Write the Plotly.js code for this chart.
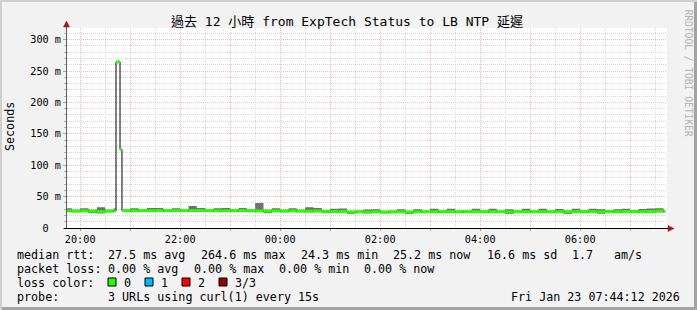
<!DOCTYPE html>
<html>
<head>
<meta charset="utf-8">
<script src="https://cdn.plot.ly/plotly-3.0.1.min.js"></script>
<style>
  html, body { margin: 0; padding: 0; background: #f2f2f2; }
  #wrap { position: relative; width: 697px; height: 310px; background: #f2f2f2;
          box-shadow: inset 2px 2px 0 #cfcfcf, inset -3px -3px 0 #a3a3a3; }
  #chart { position: absolute; left: 0; top: 0; width: 697px; height: 310px; }
</style>
</head>
<body>
<div id="wrap"><div id="chart"></div></div>
<script>
// ---------------- data ----------------
const times = [
  '2026-01-22 19:40','2026-01-22 19:50','2026-01-22 20:00','2026-01-22 20:10','2026-01-22 20:20',
  '2026-01-22 20:30','2026-01-22 20:40','2026-01-22 20:43:00','2026-01-22 20:47:50','2026-01-22 20:50:10',
  '2026-01-22 21:00','2026-01-22 21:10','2026-01-22 21:20','2026-01-22 21:30','2026-01-22 21:40','2026-01-22 21:50',
  '2026-01-22 22:00','2026-01-22 22:10','2026-01-22 22:20','2026-01-22 22:30','2026-01-22 22:40','2026-01-22 22:50',
  '2026-01-22 23:00','2026-01-22 23:10','2026-01-22 23:20','2026-01-22 23:30','2026-01-22 23:40','2026-01-22 23:50',
  '2026-01-23 00:00','2026-01-23 00:10','2026-01-23 00:20','2026-01-23 00:30','2026-01-23 00:40','2026-01-23 00:50',
  '2026-01-23 01:00','2026-01-23 01:10','2026-01-23 01:20','2026-01-23 01:30','2026-01-23 01:40','2026-01-23 01:50',
  '2026-01-23 02:00','2026-01-23 02:10','2026-01-23 02:20','2026-01-23 02:30','2026-01-23 02:40','2026-01-23 02:50',
  '2026-01-23 03:00','2026-01-23 03:10','2026-01-23 03:20','2026-01-23 03:30','2026-01-23 03:40','2026-01-23 03:50',
  '2026-01-23 04:00','2026-01-23 04:10','2026-01-23 04:20','2026-01-23 04:30','2026-01-23 04:40','2026-01-23 04:50',
  '2026-01-23 05:00','2026-01-23 05:10','2026-01-23 05:20','2026-01-23 05:30','2026-01-23 05:40','2026-01-23 05:50',
  '2026-01-23 06:00','2026-01-23 06:10','2026-01-23 06:20','2026-01-23 06:30','2026-01-23 06:40','2026-01-23 06:50',
  '2026-01-23 07:00','2026-01-23 07:10','2026-01-23 07:20','2026-01-23 07:30','2026-01-23 07:40'
];
const dataEnd = '2026-01-23 07:42';

// median rtt (ms)
const medianRtt = [
  27.2,27.0,27.3,26.8,26.0,27.0,27.2,264.6,125.0,27.5,
  27.3,27.6,27.4,27.8,27.5,27.6,
  27.4,27.8,28.0,27.6,27.3,27.5,
  27.4,27.8,27.2,27.3,26.9,27.2,
  27.0,27.3,27.0,26.8,27.1,26.5,
  26.2,26.4,25.4,25.6,25.3,25.8,
  25.2,25.5,25.7,25.4,25.6,25.9,
  26.0,25.8,26.1,25.7,25.9,26.0,
  25.8,26.1,25.9,25.6,25.8,26.0,
  25.9,26.2,25.7,25.9,25.6,26.0,
  25.8,26.1,25.7,26.0,25.8,26.2,
  26.0,25.9,26.3,27.0,26.4
];
// smoke upper bound (ms)
const smokeHi = [
  31.5,29.0,31.5,29.0,33.0,29.0,31.0,264.6,125.0,29.5,
  31.5,29.5,32.0,32.0,29.5,31.5,
  29.5,35.0,32.0,29.5,31.5,32.0,
  29.5,32.0,29.5,40.0,29.0,31.5,
  29.0,31.5,29.0,33.0,32.0,28.5,
  30.5,31.0,27.5,27.8,29.5,30.0,
  27.5,27.8,30.0,27.5,30.0,28.0,
  30.5,28.0,30.5,28.0,28.0,30.5,
  28.0,30.5,28.0,29.8,28.0,30.5,
  28.0,30.8,28.0,30.2,27.8,30.5,
  28.0,30.5,30.0,28.2,30.0,30.8,
  28.2,30.2,31.0,31.5,28.6
];
// smoke lower bound (ms)
const smokeLo = [
  25.5,25.2,25.4,23.5,23.0,25.2,25.4,264.6,125.0,25.6,
  25.5,25.8,25.4,25.9,25.6,25.7,
  25.5,25.9,26.0,25.7,25.4,25.6,
  25.4,25.9,25.3,25.4,23.6,25.3,
  25.1,25.4,25.0,24.9,25.2,23.3,
  24.3,24.5,22.3,23.8,23.4,24.0,
  23.5,23.7,23.9,22.3,23.8,24.0,
  24.1,23.9,24.2,23.8,24.0,24.1,
  23.9,24.2,24.0,22.4,23.9,24.1,
  24.0,24.3,23.8,24.0,22.4,24.1,
  23.9,24.2,22.5,24.1,23.9,24.3,
  24.1,24.0,24.4,25.1,24.5
];

const yTickVals = [0, 50, 100, 150, 200, 250, 300];
const yTickText = ['0\u00a0\u00a0', '50 m', '100 m', '150 m', '200 m', '250 m', '300 m'];
const xTickVals = [
  '2026-01-22 20:00','2026-01-22 21:00','2026-01-22 22:00','2026-01-22 23:00',
  '2026-01-23 00:00','2026-01-23 01:00','2026-01-23 02:00','2026-01-23 03:00',
  '2026-01-23 04:00','2026-01-23 05:00','2026-01-23 06:00','2026-01-23 07:00'
];
const xTickText = ['20:00','','22:00','','00:00','','02:00','','04:00','','06:00',''];

const titleText = '過去 12 小時 from ExpTech Status to LB NTP 延遲';
const legendLabels = ['median rtt:', 'packet loss:', 'loss color:', 'probe:'];
const rttStats = ['27.5 ms avg', '264.6 ms max', '24.3 ms min', '25.2 ms now', '16.6 ms sd', '1.7', 'am/s'];
const lossStats = ['0.00 % avg', '0.00 % max', '0.00 % min', '0.00 % now'];
const lossColorNames = ['0', '1', '2', '3/3'];
const lossColors = ['#26ff00', '#00b8ff', '#ff0000', '#990000'];
const probeText = '3 URLs using curl(1) every 15s';
const dateText = 'Fri Jan 23 07:44:12 2026';
const watermark = 'RRDTOOL / TOBI OETIKER';

// ---------------- geometry helpers ----------------
const FW = 697, FH = 310;
const L = 67, T = 28, PW = 600, PH = 200;
const px = x => (x - L) / PW;
const py = y => (T + PH - y) / PH;
const FONT = 'DejaVu Sans Mono, Noto Sans CJK TC, monospace';

// ---------------- traces ----------------
const xs = times.concat([dataEnd]);
const lo = smokeLo.concat([smokeLo[smokeLo.length - 1]]);
const hi = smokeHi.concat([smokeHi[smokeHi.length - 1]]);
const md = medianRtt.concat([medianRtt[medianRtt.length - 1]]);

const gx = [], gy = [];
for (let i = 0; i < medianRtt.length; i++) {
  gx.push(xs[i], xs[i + 1], null);
  gy.push(medianRtt[i], medianRtt[i], null);
}

const traces = [
  { x: xs, y: lo, type: 'scatter', mode: 'lines', line: { shape: 'hv', width: 0 }, hoverinfo: 'skip', showlegend: false },
  { x: xs, y: hi, type: 'scatter', mode: 'lines', line: { shape: 'hv', width: 0 }, fill: 'tonexty',
    fillcolor: 'rgba(100,100,100,0.92)', hoverinfo: 'skip', showlegend: false },
  { x: xs, y: md, type: 'scatter', mode: 'lines', line: { shape: 'hv', width: 1, color: '#000000' }, showlegend: false },
  { x: gx, y: gy, type: 'scatter', mode: 'lines', line: { width: 3, color: lossColors[0] }, connectgaps: false, showlegend: false }
];

// ---------------- annotations ----------------
const ann = [];
function txt(text, x, y, opts) {
  ann.push(Object.assign({
    text: text, xref: 'paper', yref: 'paper', x: px(x), y: py(y),
    xanchor: 'left', yanchor: 'middle', showarrow: false, borderpad: 0,
    font: { family: FONT, size: 11.7, color: '#000' }
  }, opts || {}));
}
const rowY = [254.5, 268.5, 282.5, 296.5];
legendLabels.forEach((s, i) => txt(s, 15.5, rowY[i]));
const rttX = [107, 200, 299.5, 392, 485.5, 570.5, 613];
rttStats.forEach((s, i) => txt(s, rttX[i], rowY[0]));
const lossX = [107, 192.5, 278, 363];
lossStats.forEach((s, i) => txt(s, lossX[i], rowY[1]));
const boxX = [108, 145, 182, 219];
const nameX = [122.5, 160, 196.5, 233.5];
lossColorNames.forEach((s, i) => txt(s, nameX[i], rowY[2]));
txt(probeText, 107, rowY[3]);
txt(dateText, 681, rowY[3], { xanchor: 'right' });
txt('Seconds', 10, 127, { xanchor: 'center', textangle: -90 });
txt(watermark, 688.5, 73, { xanchor: 'center', textangle: 90, font: { family: FONT, size: 9.6, color: '#b4b4b4' } });

// ---------------- shapes ----------------
const shapes = [];
lossColors.forEach((c, i) => {
  shapes.push({ type: 'rect', xref: 'paper', yref: 'paper',
    x0: px(boxX[i]), x1: px(boxX[i] + 8), y0: py(286), y1: py(278),
    fillcolor: c, line: { color: '#000', width: 1 } });
});
// axis lines
shapes.push({ type: 'line', xref: 'paper', yref: 'paper', x0: px(66.5), x1: px(66.5), y0: py(228.5), y1: py(24),
  line: { color: '#606060', width: 1 } });
shapes.push({ type: 'line', xref: 'paper', yref: 'paper', x0: px(64), x1: px(670), y0: py(228.5), y1: py(228.5),
  line: { color: '#000000', width: 1 } });
// arrows
shapes.push({ type: 'path', xref: 'paper', yref: 'paper',
  path: `M ${px(63.5)} ${py(27)} L ${px(69.5)} ${py(27)} L ${px(66.5)} ${py(21)} Z`,
  fillcolor: '#a01818', line: { color: '#a01818', width: 0.5 } });
shapes.push({ type: 'path', xref: 'paper', yref: 'paper',
  path: `M ${px(668)} ${py(225.5)} L ${px(668)} ${py(231.5)} L ${px(674)} ${py(228.5)} Z`,
  fillcolor: '#a01818', line: { color: '#a01818', width: 0.5 } });

// ---------------- layout ----------------
const layout = {
  width: FW, height: FH,
  margin: { l: L, r: FW - L - PW, t: T, b: FH - T - PH, pad: 0 },
  paper_bgcolor: 'rgba(0,0,0,0)', plot_bgcolor: '#ffffff',
  font: { family: FONT, color: '#000' },
  showlegend: false,
  title: { text: titleText, font: { family: FONT, size: 13, color: '#000' },
           xref: 'container', x: 347 / FW, xanchor: 'center', yref: 'container', y: 1 - 21.5 / FH, yanchor: 'middle' },
  xaxis: {
    type: 'date', range: ['2026-01-22 19:44:12', '2026-01-23 07:44:12'],
    tickmode: 'array', tickvals: xTickVals, ticktext: xTickText,
    showgrid: true, gridcolor: '#f3b8b8', griddash: '1px,1px', gridwidth: 1,
    ticks: 'outside', ticklen: 2, tickcolor: '#a0a0a0',
    tickfont: { family: FONT, size: 10.2, color: '#000' },
    minor: { dtick: 1800000, tick0: '2026-01-22 19:30', showgrid: true, gridcolor: '#d6d6d6', griddash: '1px,1px', ticks: '' },
    showline: false, zeroline: false, fixedrange: true
  },
  yaxis: {
    range: [0, 318.5], tickmode: 'array', tickvals: yTickVals, ticktext: yTickText,
    showgrid: true, gridcolor: '#f3b8b8', griddash: '1px,1px', gridwidth: 1,
    ticks: 'outside', ticklen: 3, tickcolor: '#a0a0a0',
    tickfont: { family: FONT, size: 10.2, color: '#000' },
    minor: { dtick: 10, showgrid: true, gridcolor: '#d6d6d6', griddash: '1px,1px', ticks: 'outside', ticklen: 2, tickcolor: '#b0b0b0' },
    showline: false, zeroline: false, fixedrange: true
  },
  annotations: ann,
  shapes: shapes
};

Plotly.newPlot('chart', traces, layout, { staticPlot: true, displayModeBar: false });
</script>
</body>
</html>
